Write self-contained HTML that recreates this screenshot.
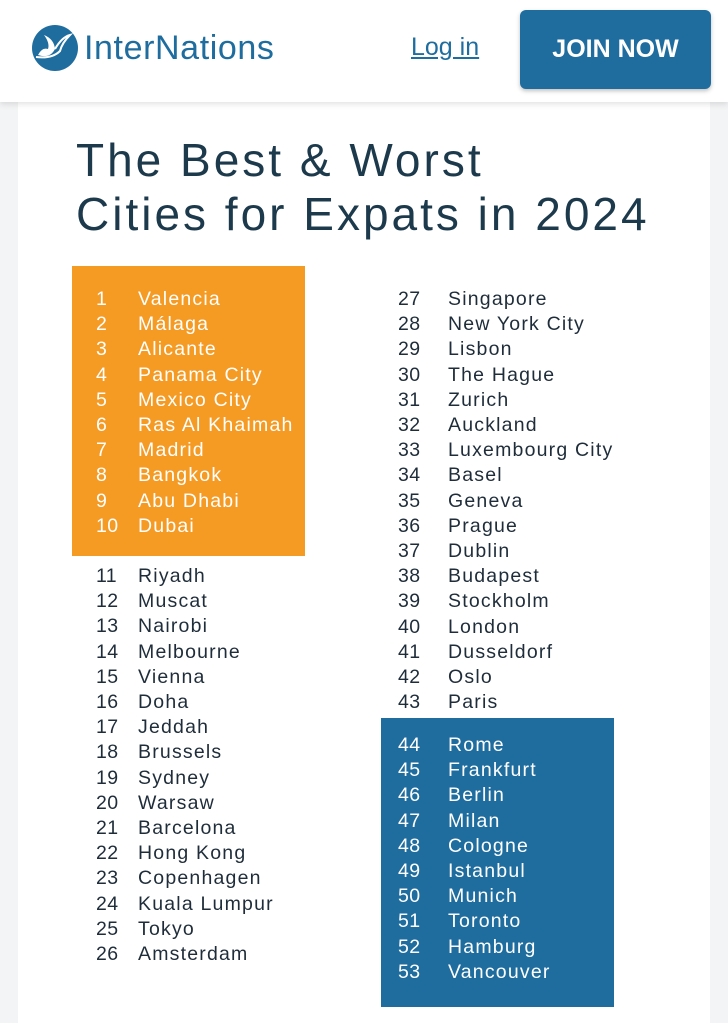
<!DOCTYPE html>
<html><head><meta charset="utf-8"><style>
*{margin:0;padding:0;box-sizing:border-box}
body{width:728px;height:1023px;overflow:hidden;background:#f3f4f5;font-family:"Liberation Sans",sans-serif;position:relative}
.hdr{position:absolute;left:0;top:0;width:728px;height:102px;background:#fff;box-shadow:0 2px 6px rgba(0,0,0,.12);z-index:2}
.logo{position:absolute;left:32px;top:25px;width:46px;height:46px;border-radius:50%;background:#1f6d9e}
.brand{position:absolute;left:84px;top:29px;font-size:34px;color:#1f6d9e;letter-spacing:0.6px}
.login{position:absolute;left:411px;top:33px;font-size:25px;color:#1f6d9e;text-decoration:underline}
.join{position:absolute;left:520px;top:10px;width:191px;height:79px;background:#1f6d9e;border-radius:6px;color:#fff;font-size:25px;font-weight:bold;text-align:center;line-height:79px;box-shadow:0 2px 4px rgba(0,0,0,.25)}
.card{position:absolute;left:18px;top:102px;width:692px;height:921px;background:#fff}
.title{position:absolute;left:76px;top:133px;font-size:46px;line-height:54px;color:#1c3a4c;letter-spacing:3px}
.box{position:absolute}
.list{position:absolute;font-size:19.5px;line-height:25.2px;color:#1f2d3a;letter-spacing:1.2px}
.list div{white-space:nowrap}
.list span{display:inline-block;letter-spacing:.4px}
.w{color:#fff}
</style></head><body>
<div class="hdr">
<div class="logo"><svg width="46" height="46" viewBox="0 0 46 46"><path d="M6 30 Q18 34 23 24 Q22 14 12 10 Q18 18 16 24 Q10 22 6 30Z" fill="#fff"/><path d="M23 24 Q30 12 38 10 Q30 18 28 26 Q20 34 4 32" fill="none" stroke="#fff" stroke-width="2"/></svg></div>
<div class="brand">InterNations</div>
<div class="login">Log in </div>
<div class="join">JOIN NOW</div>
</div>
<div class="card"></div>
<div class="title">The Best &amp; Worst<br>Cities for Expats in 2024</div>
<div class="box" style="left:72px;top:266px;width:233px;height:290px;background:#f59a23"></div>
<div class="box" style="left:381px;top:718px;width:233px;height:289px;background:#1f6d9e"></div>

<div class="list w" style="left:96px;top:287px">
<div><span style="width:42px">1</span>Valencia</div>
<div><span style="width:42px">2</span>Málaga</div>
<div><span style="width:42px">3</span>Alicante</div>
<div><span style="width:42px">4</span>Panama City</div>
<div><span style="width:42px">5</span>Mexico City</div>
<div><span style="width:42px">6</span>Ras Al Khaimah</div>
<div><span style="width:42px">7</span>Madrid</div>
<div><span style="width:42px">8</span>Bangkok</div>
<div><span style="width:42px">9</span>Abu Dhabi</div>
<div><span style="width:42px">10</span>Dubai</div>
</div>

<div class="list" style="left:96px;top:564px">
<div><span style="width:42px">11</span>Riyadh</div>
<div><span style="width:42px">12</span>Muscat</div>
<div><span style="width:42px">13</span>Nairobi</div>
<div><span style="width:42px">14</span>Melbourne</div>
<div><span style="width:42px">15</span>Vienna</div>
<div><span style="width:42px">16</span>Doha</div>
<div><span style="width:42px">17</span>Jeddah</div>
<div><span style="width:42px">18</span>Brussels</div>
<div><span style="width:42px">19</span>Sydney</div>
<div><span style="width:42px">20</span>Warsaw</div>
<div><span style="width:42px">21</span>Barcelona</div>
<div><span style="width:42px">22</span>Hong Kong</div>
<div><span style="width:42px">23</span>Copenhagen</div>
<div><span style="width:42px">24</span>Kuala Lumpur</div>
<div><span style="width:42px">25</span>Tokyo</div>
<div><span style="width:42px">26</span>Amsterdam</div>
</div>

<div class="list" style="left:398px;top:287px">
<div><span style="width:50px">27</span>Singapore</div>
<div><span style="width:50px">28</span>New York City</div>
<div><span style="width:50px">29</span>Lisbon</div>
<div><span style="width:50px">30</span>The Hague</div>
<div><span style="width:50px">31</span>Zurich</div>
<div><span style="width:50px">32</span>Auckland</div>
<div><span style="width:50px">33</span>Luxembourg City</div>
<div><span style="width:50px">34</span>Basel</div>
<div><span style="width:50px">35</span>Geneva</div>
<div><span style="width:50px">36</span>Prague</div>
<div><span style="width:50px">37</span>Dublin</div>
<div><span style="width:50px">38</span>Budapest</div>
<div><span style="width:50px">39</span>Stockholm</div>
<div><span style="width:50px">40</span>London</div>
<div><span style="width:50px">41</span>Dusseldorf</div>
<div><span style="width:50px">42</span>Oslo</div>
<div><span style="width:50px">43</span>Paris</div>
</div>

<div class="list w" style="left:398px;top:733px">
<div><span style="width:50px">44</span>Rome</div>
<div><span style="width:50px">45</span>Frankfurt</div>
<div><span style="width:50px">46</span>Berlin</div>
<div><span style="width:50px">47</span>Milan</div>
<div><span style="width:50px">48</span>Cologne</div>
<div><span style="width:50px">49</span>Istanbul</div>
<div><span style="width:50px">50</span>Munich</div>
<div><span style="width:50px">51</span>Toronto</div>
<div><span style="width:50px">52</span>Hamburg</div>
<div><span style="width:50px">53</span>Vancouver</div>
</div>
</body></html>
